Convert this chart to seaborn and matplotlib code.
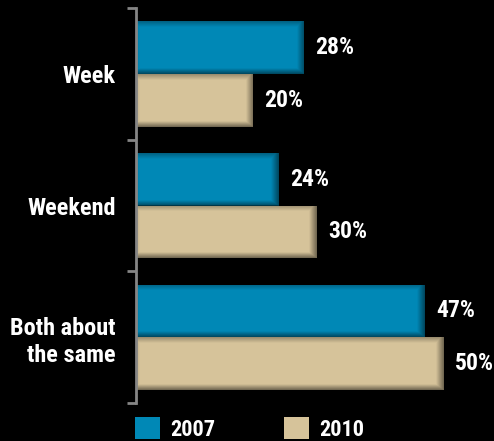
import matplotlib
matplotlib.use("Agg")
import matplotlib.pyplot as plt
import numpy as np
import seaborn as sns
import pandas as pd
from matplotlib.patches import Patch

categories = ["Week", "Weekend", "Both about\nthe same"]
years = ["2007", "2010"]
values_2007 = [28, 24, 47]
values_2010 = [20, 30, 50]

BLUE = "#0088B6"
BEIGE = "#D6C39A"
GRAY = "#858585"

df = pd.DataFrame({
    "category": categories * 2,
    "year": [years[0]] * 3 + [years[1]] * 3,
    "value": values_2007 + values_2010,
})

sns.set_theme(style="white")
plt.rcParams["font.family"] = ["Roboto Condensed", "DejaVu Sans"]
plt.rcParams["font.weight"] = "bold"

W, H = 494, 441
fig = plt.figure(figsize=(W / 100, H / 100), dpi=100, facecolor="black")
ax = fig.add_axes([136 / W, 1 - 403 / H, 358 / W, 395 / H])
ax.set_facecolor("black")

sns.barplot(data=df, y="category", x="value", hue="year", orient="h",
            palette=[BLUE, BEIGE], order=categories, hue_order=years,
            width=0.8, ax=ax, legend=False, saturation=1)

XMIN, XMAX = 1.5, 57.9
ax.set_xlim(XMIN, XMAX)
ax.set_ylim(2.5, -0.5)

px_x = 358 / (XMAX - XMIN)   # pixels per data unit in x
px_y = 395 / 3.0             # pixels per data unit in y

def bevel(p):
    x0, y0 = max(p.get_x(), XMIN), p.get_y()
    x1 = p.get_x() + p.get_width()
    w, h = x1 - x0, p.get_height()
    nw, nh = max(int(round(w * px_x)), 2), max(int(round(h * px_y)), 2)
    xx = np.arange(nw)[None, :] + 0.5
    yy = np.arange(nh)[:, None] + 0.5
    bw = 6.0
    a = np.zeros((nh, nw))
    a = np.maximum(a, 0.30 * np.clip(1 - yy / bw, 0, 1))            # top
    a = np.maximum(a, 0.50 * np.clip(1 - (nh - yy) / bw, 0, 1))     # bottom
    a = np.maximum(a, 0.50 * np.clip(1 - (nw - xx) / 8.0, 0, 1))    # right
    a = np.maximum(a, 0.12 * np.clip(1 - xx / 4.0, 0, 1))           # left
    img = np.zeros((nh, nw, 4))
    img[..., 3] = a
    ax.imshow(img, extent=(x0, x1, y0 + h, y0), origin="upper",
              aspect="auto", interpolation="bilinear", zorder=p.get_zorder() + 0.1,
              clip_path=p, clip_on=True)

for cont in ax.containers:
    for p in cont.patches:
        p.set_linewidth(0)
        bevel(p)
    ax.bar_label(cont, labels=[f"{int(round(v))}%" for v in cont.datavalues],
                 padding=8, color="white", fontsize=17, fontweight="bold")

ax.set_xlim(XMIN, XMAX)
ax.set_ylim(2.5, -0.5)
ax.set_xlabel("")
ax.set_ylabel("")
ax.set_xticks([])
for s in ["top", "right", "bottom"]:
    ax.spines[s].set_visible(False)
ax.spines["left"].set_color(GRAY)
ax.spines["left"].set_linewidth(2)
ax.spines["left"].set_zorder(5)

ax.set_yticks([-0.5, 0.5, 1.5, 2.5])
ax.set_yticklabels([])
ax.set_yticks([0, 1, 2], minor=True)
ax.set_yticklabels(categories, minor=True)
ax.tick_params(axis="y", which="major", length=6.5, width=2, color=GRAY, left=True)
ax.tick_params(axis="y", which="minor", length=0, pad=14.5, labelsize=17.5,
               labelcolor="white")
for t in ax.get_yticklabels(minor=True):
    t.set_fontweight("bold")
    t.set_linespacing(1.25)

handles = [Patch(facecolor=BLUE, edgecolor="none"),
           Patch(facecolor=BEIGE, edgecolor="none")]
leg = fig.legend(handles, years, loc="center left",
                 bbox_to_anchor=(135 / W, 1 - 429 / H),
                 ncol=2, frameon=False, borderpad=0, borderaxespad=0,
                 handlelength=1.13, handleheight=1.13, handletextpad=0.45,
                 columnspacing=3.1, fontsize=16)
for t in leg.get_texts():
    t.set_color("white")
    t.set_fontweight("bold")

fig.savefig("out.png", dpi=100, facecolor="black")
